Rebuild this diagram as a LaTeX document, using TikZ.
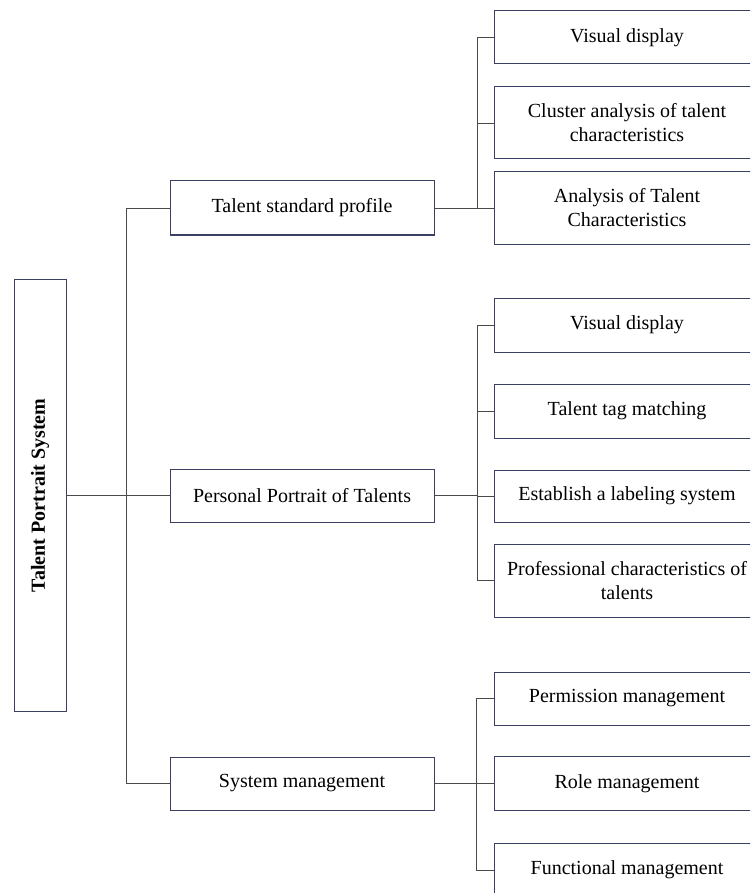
\documentclass[tikz,border=0pt]{standalone}
\usepackage{fontspec}
\setmainfont{Liberation Serif}
\definecolor{boxline}{HTML}{3C4060}
\definecolor{wire}{HTML}{4A4A4A}
\begin{document}
\begin{tikzpicture}[x=1pt,y=-1pt,
  box/.style={draw=boxline, line width=1pt, fill=white, inner sep=0pt,
    align=center, font=\fontsize{20}{24}\selectfont},
  midbox/.style={box, minimum width=264pt, minimum height=53pt},
  leafbox/.style={box, minimum width=266pt},
  wireline/.style={draw=wire, line width=0.9pt}]
\useasboundingbox (0,0) rectangle (750,893);
\clip (0,0) rectangle (750,893);

% root
\node[box, minimum width=52pt, minimum height=432pt] (root) at (40,495.5)
  {\rotatebox{90}{\bfseries Talent Portrait System}};

% second level
\node[midbox, minimum height=54pt] (m1) at (302,208) {Talent standard profile};
\node[midbox] (m2) at (302,495.5) {Personal Portrait of Talents};
\node[midbox] (m3) at (302,783.5) {System management};

% leaves of the standard profile
\node[leafbox, minimum height=53pt] (a1) at (627,37.5) {Visual display};
\node[leafbox, minimum height=72pt] (a2) at (627,123) {Cluster analysis of talent\\characteristics};
\node[leafbox, minimum height=72pt] (a3) at (627,208) {Analysis of Talent\\Characteristics};

% leaves of the personal portrait
\node[leafbox, minimum height=54pt] (b1) at (627,325) {Visual display};
\node[leafbox, minimum height=54pt] (b2) at (627,411) {Talent tag matching};
\node[leafbox, minimum height=52pt] (b3) at (627,496) {Establish a labeling system};
\node[leafbox, minimum height=73pt] (b4) at (627,580.5) {Professional characteristics of\\talents};

% leaves of system management
\node[leafbox, minimum height=53pt] (c1) at (627,698.5) {Permission management};
\node[leafbox, minimum height=54pt] (c2) at (627,783.5) {Role management};
\node[leafbox, minimum height=54pt] (c3) at (627,870) {Functional management};

% bus positions
\coordinate (tk) at (126,0);
\coordinate (ka) at (477,0);
\coordinate (kb) at (477,0);
\coordinate (kc) at (476,0);

% root to second level
\draw[wireline] (root.east) -- (m2.west);
\draw[wireline] (m1.west) -- (m1.west -| tk) -- (m3.west -| tk) -- (m3.west);

% standard profile branch
\draw[wireline] (m1.east) -- (a3.west);
\draw[wireline] (a1.west) -- (a1.west -| ka) -- (a3.west -| ka);
\draw[wireline] (a2.west -| ka) -- (a2.west);

% personal portrait branch
\draw[wireline] (m2.east) -- (m2.east -| kb);
\draw[wireline] (b1.west) -- (b1.west -| kb) -- (b4.west -| kb) -- (b4.west);
\draw[wireline] (b2.west -| kb) -- (b2.west);
\draw[wireline] (b3.west -| kb) -- (b3.west);

% system management branch
\draw[wireline] (m3.east) -- (c2.west);
\draw[wireline] (c1.west) -- (c1.west -| kc) -- (c3.west -| kc) -- (c3.west);
\end{tikzpicture}
\end{document}
